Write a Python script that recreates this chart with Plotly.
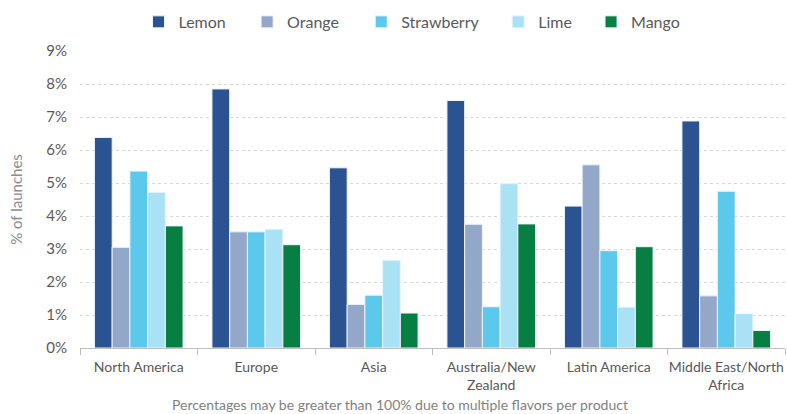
import plotly.graph_objects as go

# Share of new product launches featuring each flavour, by region (%)
regions = ["North America", "Europe", "Asia", "Australia/New<br>Zealand",
           "Latin America", "Middle East/North<br>Africa"]
lemon = [6.38, 7.85, 5.46, 7.50, 4.30, 6.88]
orange = [3.05, 3.52, 1.32, 3.75, 5.55, 1.58]
strawberry = [5.36, 3.52, 1.60, 1.25, 2.95, 4.75]
lime = [4.72, 3.60, 2.66, 4.98, 1.24, 1.04]
mango = [3.70, 3.13, 1.06, 3.76, 3.07, 0.53]

series = [
    ("Lemon", lemon, "#2c5391"),
    ("Orange", orange, "#93a7c9"),
    ("Strawberry", strawberry, "#5bc8ec"),
    ("Lime", lime, "#a9e2f4"),
    ("Mango", mango, "#077f43"),
]
# left edge of each legend entry, as a fraction of the page width
legend_x = [0.176, 0.314, 0.459, 0.633, 0.751]

FONT = "Lato"
fig = go.Figure()
for i, (name, vals, col) in enumerate(series):
    lg = "legend" if i == 0 else f"legend{i + 1}"
    fig.add_trace(go.Bar(
        x=regions, y=vals, name=name,
        marker=dict(color=col, line=dict(color="#eef3fa", width=1)),
        legend=lg,
    ))

layout_legends = {}
for i, lx in enumerate(legend_x):
    key = "legend" if i == 0 else f"legend{i + 1}"
    layout_legends[key] = dict(
        x=lx, y=0.947, xref="container", yref="container",
        xanchor="left", yanchor="middle",
        orientation="h", bgcolor="rgba(0,0,0,0)",
        font=dict(family=FONT, size=16, color="#595959"),
        itemwidth=30,
    )

fig.update_layout(
    width=787, height=414,
    margin=dict(l=80, r=2, t=51, b=66, autoexpand=False),
    paper_bgcolor="white", plot_bgcolor="white",
    barmode="group", bargap=0.246, bargroupgap=0,
    font=dict(family=FONT, size=13, color="#595959"),
    showlegend=True,
    **layout_legends,
)
fig.update_yaxes(
    range=[0, 9], dtick=1, ticksuffix="%", tickformat="d",
    showgrid=True, gridcolor="#d9d9d9", griddash="dot", gridwidth=1,
    zeroline=False, showline=False, ticks="", ticklabelstandoff=12,
    automargin=False,
    tickfont=dict(family=FONT, size=15, color="#595959"),
    title=dict(text="% of launches", font=dict(family=FONT, size=15, color="#8c8c8c"), standoff=20),
)
fig.update_xaxes(
    showline=True, linecolor="#bfbfbf", linewidth=1,
    ticks="outside", tickson="boundaries", ticklen=6, tickcolor="#bfbfbf",
    ticklabelstandoff=6, tickangle=0, automargin=False,
    tickfont=dict(family=FONT, size=14, color="#595959"),
    showgrid=False,
)
fig.add_annotation(
    text="Percentages may be greater than 100% due to multiple flavors per product",
    xref="paper", yref="paper", x=0.454, y=0, yshift=-56, showarrow=False,
    xanchor="center", yanchor="middle",
    font=dict(family=FONT, size=14, color="#7f7f7f"),
)
fig.write_html("out.html")
